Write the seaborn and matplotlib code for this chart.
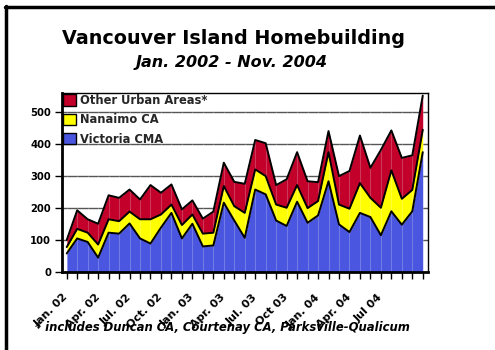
import numpy as np
import pandas as pd
import seaborn as sns
import matplotlib.pyplot as plt
from matplotlib.lines import Line2D
from matplotlib.patches import Patch

# Monthly data, Jan 2002 - Nov 2004
victoria = [58, 105, 94, 45, 123, 120, 152, 105, 89, 139, 185, 105, 151, 80, 83, 217, 161, 107,
            258, 243, 161, 144, 220, 154, 177, 284, 149, 125, 185, 172, 115, 190, 148, 190, 375]
nanaimo = [20, 30, 29, 41, 42, 39, 37, 60, 76, 41, 26, 42, 29, 40, 40, 52, 45, 78,
           63, 57, 50, 57, 52, 46, 45, 91, 62, 73, 93, 60, 86, 128, 81, 67, 70]
other = [22, 58, 42, 65, 75, 73, 69, 62, 107, 68, 63, 49, 44, 47, 66, 73, 76, 91,
         92, 103, 61, 89, 103, 84, 59, 66, 89, 118, 149, 94, 181, 125, 128, 108, 107]
series_names = ["Victoria CMA", "Nanaimo CA", "Other Urban Areas*"]
tick_labels = ["Jan. 02", "Apr. 02", "Jul. 02", "Oct. 02", "Jan. 03", "Apr. 03",
               "Jul. 03", "Oct 03", "Jan. 04", "Apr. 04", "Jul 04"]
y_ticks = [0, 100, 200, 300, 400, 500]

blue = "#4a56e0"
yellow = "#ffff00"
red = "#c2002a"
W = "bold"

sns.set_theme(style="white")
plt.rcParams['font.family'] = ['DejaVu Sans']

x = np.arange(len(victoria))
c1 = np.array(victoria)
c2 = c1 + np.array(nanaimo)
c3 = c2 + np.array(other)
df = pd.DataFrame({"month": x, "c1": c1, "c2": c2, "c3": c3})

fig = plt.figure(figsize=(4.95, 3.5), dpi=100)
ax = fig.add_axes([62 / 495, 1 - 272 / 350, (428 - 62) / 495, (272 - 92.7) / 350])

ax.fill_between(df["month"], 0, df["c1"], color=blue, lw=0, zorder=2)
ax.fill_between(df["month"], df["c1"], df["c2"], color=yellow, lw=0, zorder=2)
ax.fill_between(df["month"], df["c2"], df["c3"], color=red, lw=0, zorder=2)
for col in ["c1", "c2", "c3"]:
    sns.lineplot(data=df, x="month", y=col, ax=ax, color="black", lw=1.4, zorder=3)
for xi in x:
    ax.axvline(xi, color="white", alpha=0.22, lw=0.8, zorder=2.5)

ax.set_xlim(-0.45, 34.5)
ax.set_ylim(0, 561)
ax.set_axisbelow(True)
ax.yaxis.grid(True, color="#555555", lw=1.0)
ax.xaxis.grid(False)
ax.set_xlabel("")
ax.set_ylabel("")

ax.set_xticks(x)
labels = [""] * len(x)
for i, lab in enumerate(tick_labels):
    labels[i * 3] = lab
ax.set_xticklabels(labels, rotation=45, ha="right", va="center", rotation_mode="anchor",
                   fontsize=8, fontweight=W, color="black")
ax.set_yticks(y_ticks)
ax.set_yticklabels([str(v) for v in y_ticks], fontsize=7.2, fontweight=W, color="black")
ax.tick_params(axis="both", bottom=True, left=True, direction="out", length=5,
               width=1, color="black", pad=3)
ax.tick_params(axis="x", pad=12)

for s in ax.spines.values():
    s.set_color("black")
    s.set_linewidth(1.0)
    s.set_zorder(4)
ax.spines["left"].set_linewidth(2.0)
ax.spines["bottom"].set_linewidth(2.0)

handles = [Patch(facecolor=red, edgecolor="black", label=series_names[2]),
           Patch(facecolor=yellow, edgecolor="black", label=series_names[1]),
           Patch(facecolor=blue, edgecolor="black", label=series_names[0])]
leg = ax.legend(handles=handles, loc="upper left", frameon=False,
                prop={"weight": W, "size": 8.3}, handlelength=1.15, handleheight=1.15,
                handletextpad=0.35, borderaxespad=0.05, labelspacing=0.55, borderpad=0.05)
leg.set_zorder(5)

fig.text(234 / 495, 1 - 38 / 350, "Vancouver Island Homebuilding", ha="center", va="center",
         fontsize=13.8, fontweight=W, color="black")
fig.text(232 / 495, 1 - 62 / 350, "Jan. 2002 - Nov. 2004", ha="center", va="center",
         fontsize=11.5, fontweight=W, fontstyle="italic", color="black")
fig.text(35 / 495, 1 - 327 / 350, "* includes Duncan CA, Courtenay CA, Parksville-Qualicum",
         ha="left", va="center", fontsize=8.4, fontweight=W, fontstyle="italic", color="black")

fig.add_artist(Line2D([5.5 / 495, 5.5 / 495], [0, 1 - 6 / 350], color="black", lw=2.5,
                      transform=fig.transFigure))
fig.add_artist(Line2D([4.5 / 495, 1], [1 - 7.3 / 350, 1 - 7.3 / 350], color="black", lw=2.5,
                      transform=fig.transFigure))

fig.savefig("out.png", dpi=100, facecolor="white")
